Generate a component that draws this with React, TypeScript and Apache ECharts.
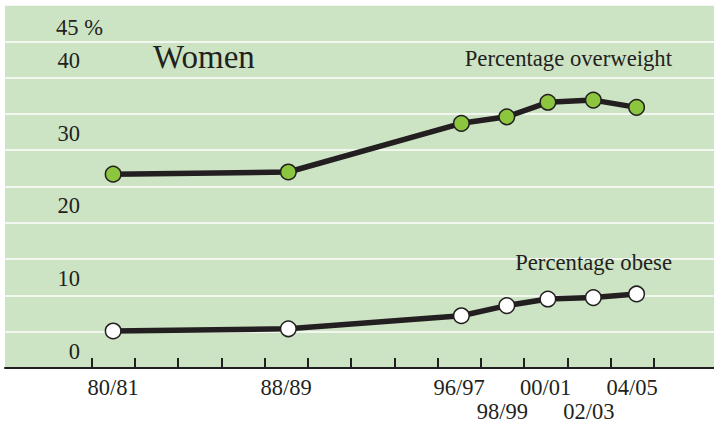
import React, { useEffect, useRef } from "react";
import * as echarts from "echarts";

// Survey periods (labels) and where they sit on the year axis
const upperRowPeriods = ["80/81", "88/89", "96/97", "00/01", "04/05"];
const upperRowYears = [80, 88, 96, 100, 104];
const lowerRowPeriods = ["98/99", "02/03"];
const lowerRowYears = [98, 102];
// Where the points are plotted on the year axis
const pointYears = [80, 88.1, 96.1, 98.2, 100.1, 102.2, 104.2];
// Series values (%)
const overweight = [26.7, 27.0, 33.7, 34.6, 36.6, 36.9, 35.9];
const obese = [5.1, 5.4, 7.2, 8.6, 9.5, 9.7, 10.2];
// Axis ticks
const xTickYears = [79, 81, 83, 85, 87, 89, 91, 93, 95, 97, 99, 101, 103, 105];
const yLabelValues = [0, 10, 20, 30, 40, 45];

const FONT = "'Liberation Serif', 'DejaVu Serif', serif";
const INK = "#231f20";
const X_MIN = 75;
const X_MAX = 107.78;

export default function App() {
  const ref = useRef<HTMLDivElement>(null);

  useEffect(() => {
    if (!ref.current) return;
    const chart = echarts.init(ref.current, undefined, { renderer: "svg" });

    const pairs = (ys: number[]) => pointYears.map((x, i) => [x, ys[i]]);
    const labelFor = (years: number[], names: string[]) => (v: number) => {
      const i = years.indexOf(Math.round(v));
      return i < 0 ? "" : names[i];
    };
    const xLabelBase = {
      color: INK,
      fontFamily: FONT,
      fontSize: 22.5,
      lineHeight: 24,
      verticalAlign: "top",
      showMinLabel: true,
      showMaxLabel: true,
    };

    chart.setOption({
      animation: false,
      backgroundColor: "#ffffff",
      grid: {
        left: 5,
        right: 0,
        top: 5,
        bottom: 57,
        show: true,
        backgroundColor: "#cce4c4",
        borderWidth: 0,
      },
      xAxis: [
        {
          type: "value",
          min: X_MIN,
          max: X_MAX,
          position: "bottom",
          axisLine: { show: true, lineStyle: { color: INK, width: 2 } },
          axisTick: {
            show: true,
            inside: true,
            length: 10,
            lineStyle: { color: INK, width: 2 },
            customValues: xTickYears,
          },
          splitLine: { show: false },
          axisLabel: {
            ...xLabelBase,
            customValues: upperRowYears,
            margin: 7,
            formatter: labelFor(upperRowYears, upperRowPeriods),
          },
        },
        {
          type: "value",
          min: X_MIN,
          max: X_MAX,
          position: "bottom",
          offset: 0,
          axisLine: { show: false },
          axisTick: { show: false },
          splitLine: { show: false },
          axisLabel: {
            ...xLabelBase,
            customValues: lowerRowYears,
            margin: 31,
            formatter: labelFor(lowerRowYears, lowerRowPeriods),
          },
        },
      ],
      yAxis: {
        type: "value",
        min: 0,
        max: 50,
        interval: 5,
        axisLine: { show: false },
        axisTick: { show: false },
        splitLine: { show: true, lineStyle: { color: "#ffffff", width: 1.5 } },
        axisLabel: {
          inside: true,
          margin: 51,
          align: "left",
          verticalAlign: "bottom",
          padding: [0, 0, 6, 0],
          color: INK,
          fontFamily: FONT,
          fontSize: 22.5,
          formatter: (v: number) => {
            if (!yLabelValues.includes(v)) return "";
            if (v === 45) return "{m|45 %}";
            return "{n|" + v + "}";
          },
          rich: {
            n: {
              width: 24,
              align: "right",
              lineHeight: 22,
              fontSize: 22.5,
              fontFamily: FONT,
              color: INK,
            },
            m: {
              lineHeight: 15,
              fontSize: 22.5,
              fontFamily: FONT,
              color: INK,
            },
          },
        },
      },
      graphic: [
        {
          type: "text",
          left: 153,
          top: 40,
          z: 10,
          style: {
            text: "Women",
            fontFamily: FONT,
            fontSize: 33,
            fill: INK,
          },
        },
        {
          type: "text",
          x: 672,
          y: 58,
          z: 10,
          style: {
            text: "Percentage overweight",
            fontFamily: FONT,
            fontSize: 22.7,
            fill: INK,
            align: "right",
            verticalAlign: "middle",
          },
        },
        {
          type: "text",
          x: 672,
          y: 262.5,
          z: 10,
          style: {
            text: "Percentage obese",
            fontFamily: FONT,
            fontSize: 22.7,
            fill: INK,
            align: "right",
            verticalAlign: "middle",
          },
        },
      ],
      series: [
        {
          name: "Percentage overweight",
          type: "line",
          xAxisIndex: 0,
          data: pairs(overweight),
          symbol: "circle",
          symbolSize: 15.5,
          lineStyle: { color: INK, width: 5.5 },
          itemStyle: { color: "#8cc63f", borderColor: INK, borderWidth: 1.5 },
          z: 3,
        },
        {
          name: "Percentage obese",
          type: "line",
          xAxisIndex: 0,
          data: pairs(obese),
          symbol: "circle",
          symbolSize: 15.5,
          lineStyle: { color: INK, width: 5.5 },
          itemStyle: { color: "#ffffff", borderColor: INK, borderWidth: 1.5 },
          z: 3,
        },
      ],
    });

    return () => chart.dispose();
  }, []);

  return (
    <div
      ref={ref}
      style={{ position: "absolute", left: 0, top: 0, width: 714, height: 425 }}
    />
  );
}
